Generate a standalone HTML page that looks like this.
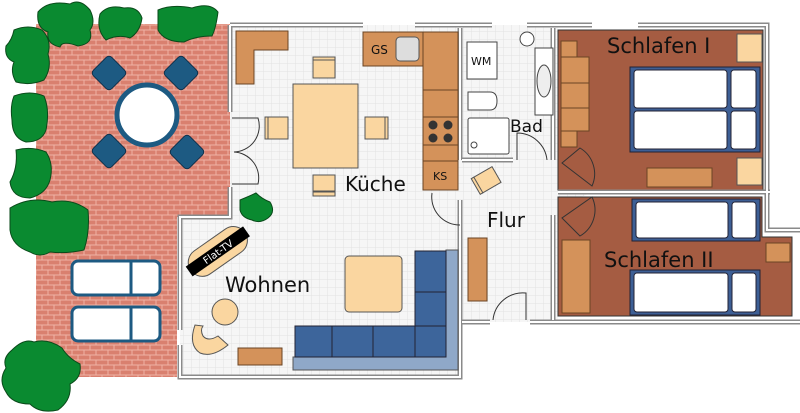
<!DOCTYPE html>
<html><head><meta charset="utf-8"><style>
html,body{margin:0;padding:0;background:#fff;width:800px;height:413px;overflow:hidden}
svg{display:block}
text{font-family:"DejaVu Sans","Liberation Sans",sans-serif;fill:#111}
</style></head><body>
<svg width="800" height="413" viewBox="0 0 800 413" xmlns="http://www.w3.org/2000/svg">
<defs>
<pattern id="brick" width="12" height="10" patternUnits="userSpaceOnUse">
<rect width="12" height="10" fill="#f0b2a4"/>
<rect x="0.5" y="0.5" width="11" height="4" fill="#d9806f"/>
<rect x="-5.5" y="5.5" width="11" height="4" fill="#d9806f"/>
<rect x="6.5" y="5.5" width="11" height="4" fill="#d9806f"/>
</pattern>
<pattern id="grid" width="8" height="8" patternUnits="userSpaceOnUse">
<rect width="8" height="8" fill="#f6f6f6"/>
<path d="M8 0V8H0" fill="none" stroke="#e2e2e2" stroke-width="1"/>
</pattern>
</defs>

<path d="M36 24H230V217H177V377H36Z" fill="url(#brick)"/>

<path d="M230 25H460V377H180V217H230Z" fill="url(#grid)"/>
<rect x="460" y="25" width="98" height="297" fill="url(#grid)"/>
<path d="M553 160L597 190L553 210Z" fill="url(#grid)"/>

<rect x="558" y="30" width="205" height="160" fill="#a55c42" stroke="#333" stroke-width="1"/>
<path d="M558 197H762V237H792V316H558Z" fill="#a55c42" stroke="#333" stroke-width="1"/>

<g fill="none" stroke="#8a8a8a" stroke-width="5">
<path d="M230 25H363M415 25H492M527 25H592M638 25H767V230H800"/>
<path d="M230 25V112M230 187V217H180V330M180 345V377H460V322"/>
<path d="M460 28V160M460 200V377M553 28V160M553 215V320"/>
<path d="M462 160H513M558 192H770"/>
<path d="M462 322H490M530 322H800"/>
</g>
<g fill="none" stroke="#fff" stroke-width="2">
<path d="M230 25H363M415 25H492M527 25H592M638 25H767V230H800"/>
<path d="M230 25V112M230 187V217H180V330M180 345V377H460V322"/>
<path d="M460 28V160M460 200V377M553 28V160M553 215V320"/>
<path d="M462 160H513M558 192H770"/>
<path d="M462 322H490M530 322H800"/>
</g>

<g fill="none" stroke="#333" stroke-width="1">
<path d="M232 118H258A26 26 0 0 1 234 152"/>
<path d="M232 184H258A26 26 0 0 0 234 152"/>
<path d="M432 193A28 28 0 0 0 460 225"/>
<path d="M517 160V133A30 30 0 0 1 547 160"/>
<path d="M493 320A30 30 0 0 1 526 293V320"/>
</g>
<g fill="#a55c42" stroke="#333" stroke-width="1">
<path d="M562 163L580 148A30 30 0 0 1 592 186Z"/>
<path d="M562 218L580 236A30 30 0 0 0 592 197Z"/>
</g>

<g fill="#0a8a30" stroke="#0a4a1a" stroke-width="1">
<path d="M38 12Q48 0 70 4Q80 -2 90 10Q96 22 90 30Q94 44 78 46Q62 40 60 47Q46 44 48 32Q36 28 38 12Z"/>
<path d="M100 14Q108 4 124 8Q138 6 142 18Q140 32 130 38Q118 34 106 40Q96 30 100 14Z"/>
<path d="M158 10Q172 4 192 8Q210 2 218 12Q216 28 212 36Q196 36 184 42Q164 42 158 30Z"/>
<path d="M14 30Q28 24 42 30Q52 40 48 54Q52 68 44 80Q30 86 16 82Q10 72 14 62Q4 58 6 46Q12 40 14 30Z"/>
<path d="M14 96Q30 90 44 96Q50 110 46 130Q42 142 26 142Q12 138 12 120Q10 106 14 96Z"/>
<path d="M16 150Q32 146 46 152Q54 164 50 180Q46 194 30 198Q12 198 10 182Q18 168 16 150Z"/>
<path d="M10 208Q30 196 52 202Q72 198 88 210Q90 232 84 250Q66 254 50 252Q40 258 30 252Q12 246 10 230Z"/>
<path d="M12 350Q24 338 34 342Q48 338 62 348Q68 358 80 364Q82 378 70 384Q72 400 58 410Q40 414 30 404Q12 404 6 392Q-2 380 6 368Q2 358 12 350Z"/>
<path d="M240 200Q250 196 256 193Q262 199 270 202Q276 212 268 218Q260 224 252 220Q242 218 240 210Z"/>
</g>

<g fill="#1d5a82" stroke="#10304a" stroke-width="1">
<rect x="96" y="60" width="26" height="26" rx="4" transform="rotate(45 109 73)"/>
<rect x="168" y="60" width="26" height="26" rx="4" transform="rotate(45 181 73)"/>
<rect x="96" y="138" width="26" height="26" rx="4" transform="rotate(45 109 151)"/>
<rect x="174" y="139" width="26" height="26" rx="4" transform="rotate(45 187 152)"/>
</g>
<circle cx="147" cy="115" r="30" fill="#fff" stroke="#1d5a82" stroke-width="5"/>
<g fill="#fff" stroke="#1d5a82" stroke-width="3">
<rect x="72" y="261" width="88" height="34" rx="6"/>
<rect x="72" y="307" width="88" height="34" rx="6"/>
</g>
<path d="M131 261V295M131 307V341" stroke="#1d5a82" stroke-width="3"/>

<g fill="#d4925a" stroke="#6a4424" stroke-width="1">
<path d="M236 31H288V50H254V84H236Z"/>
<rect x="363" y="32" width="60" height="34"/>
<rect x="423" y="32" width="35" height="58"/>
<rect x="423" y="90" width="35" height="27"/>
<rect x="423" y="117" width="35" height="28"/>
<rect x="423" y="145" width="35" height="16"/>
<rect x="423" y="161" width="35" height="29"/>
</g>
<rect x="396" y="37" width="23" height="24" rx="4" fill="#ddd" stroke="#555"/>
<g fill="#333"><circle cx="433" cy="125" r="4.5"/><circle cx="448" cy="125" r="4.5"/><circle cx="433" cy="138" r="4.5"/><circle cx="448" cy="138" r="4.5"/></g>
<text x="371" y="54" font-size="12">GS</text>
<text x="433" y="180" font-size="11">KS</text>
<g fill="#fad6a0" stroke="#555" stroke-width="1">
<rect x="293" y="84" width="65" height="84"/>
<rect x="313" y="60" width="22" height="18"/><rect x="313" y="57" width="22" height="3"/>
<rect x="268" y="117" width="20" height="22"/><rect x="265" y="117" width="3" height="22"/>
<rect x="365" y="117" width="20" height="22"/><rect x="385" y="117" width="3" height="22"/>
<rect x="313" y="175" width="22" height="16"/><rect x="313" y="192" width="22" height="4"/>
<rect x="345" y="256" width="57" height="56" rx="4"/>
<circle cx="225" cy="312" r="13"/>
</g>
<text x="345" y="191" font-size="20">Küche</text>
<text x="487" y="227" font-size="20">Flur</text>
<text x="510" y="132" font-size="17">Bad</text>
<text x="225" y="292" font-size="21">Wohnen</text>
<text x="607" y="53" font-size="21">Schlafen I</text>
<text x="604" y="267" font-size="21">Schlafen II</text>

<g transform="rotate(-35 217 252)">
<rect x="185" y="238" width="66" height="28" rx="14" fill="#fad6a0" stroke="#555"/>
<rect x="183" y="246" width="70" height="12" fill="#000"/>
<text x="218" y="256" font-size="10" text-anchor="middle" style="fill:#fff">Flat-TV</text>
</g>
<path d="M195 325Q188 345 200 353Q212 358 228 345L218 336Q208 342 203 336Q200 330 203 326Z" fill="#fad6a0" stroke="#555"/>
<rect x="238" y="348" width="44" height="17" fill="#d4925a" stroke="#6a4424"/>

<path d="M446 250H458V370H293V357H446Z" fill="#8fa8c8" stroke="#555"/>
<g fill="#3d659b" stroke="#223" stroke-width="1">
<rect x="415" y="251" width="31" height="41"/>
<rect x="415" y="292" width="31" height="34"/>
<rect x="295" y="326" width="37" height="31"/>
<rect x="332" y="326" width="41" height="31"/>
<rect x="373" y="326" width="42" height="31"/>
<rect x="415" y="326" width="31" height="31"/>
</g>

<g fill="#fff" stroke="#444" stroke-width="1">
<rect x="467" y="42" width="30" height="37"/>
<circle cx="527" cy="39" r="7"/>
<rect x="535" y="48" width="18" height="67"/>
<ellipse cx="544" cy="81" rx="7" ry="16" fill="#eee"/>
<path d="M468 92H490Q497 92 497 101Q497 110 490 110H468Z"/>
<rect x="468" y="118" width="41" height="36" rx="2"/>
<circle cx="474" cy="145" r="3"/>
</g>
<text x="471" y="65" font-size="11">WM</text>
<g transform="rotate(-30 487 180)"><rect x="476" y="171" width="22" height="18" fill="#fad6a0" stroke="#555"/><rect x="474" y="171" width="3" height="18" fill="#fad6a0" stroke="#555"/></g>
<rect x="468" y="238" width="19" height="63" fill="#d4925a" stroke="#6a4424"/>

<g fill="#d4925a" stroke="#6a4424" stroke-width="1">
<rect x="561" y="41" width="16" height="16"/>
<rect x="561" y="57" width="28" height="26"/>
<rect x="561" y="83" width="28" height="25"/>
<rect x="561" y="108" width="28" height="23"/>
<rect x="561" y="131" width="16" height="16"/>
<rect x="647" y="168" width="65" height="19"/>
<rect x="562" y="240" width="28" height="73"/>
<rect x="766" y="243" width="24" height="19"/>
</g>
<g fill="#fad6a0" stroke="#555"><rect x="737" y="34" width="25" height="28"/><rect x="737" y="158" width="25" height="27"/></g>
<g fill="#3d5f95" stroke="#223">
<rect x="630" y="67" width="130" height="85"/>
<rect x="632" y="199" width="128" height="42"/>
<rect x="630" y="270" width="130" height="45"/>
</g>
<g fill="#fff" stroke="#223" stroke-width="1">
<rect x="634" y="70" width="93" height="38" rx="3"/><rect x="731" y="70" width="25" height="38" rx="3"/>
<rect x="634" y="111" width="93" height="38" rx="3"/><rect x="731" y="111" width="25" height="38" rx="3"/>
<rect x="636" y="202" width="92" height="36" rx="3"/><rect x="732" y="202" width="24" height="36" rx="3"/>
<rect x="634" y="273" width="94" height="39" rx="3"/><rect x="732" y="273" width="24" height="39" rx="3"/>
</g>
</svg>
</body></html>
